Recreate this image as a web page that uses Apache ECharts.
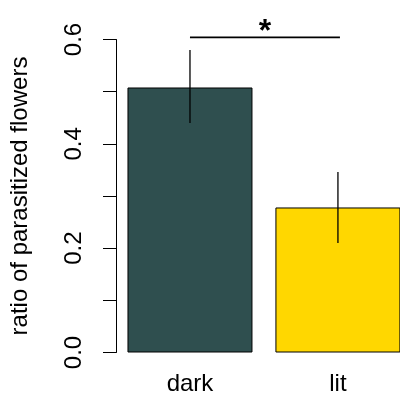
<!DOCTYPE html>
<html>
<head>
<meta charset="utf-8">
<script src="https://cdn.jsdelivr.net/npm/echarts@6/dist/echarts.min.js"></script>
<style>
html,body{margin:0;padding:0;background:#fff;}
#chart{width:400px;height:408px;}
</style>
</head>
<body>
<div id="chart"></div>
<script>
const categories = ['dark', 'lit'];
const means = [0.508, 0.278];
const errLow = [0.440, 0.210];
const errHigh = [0.580, 0.346];
const barColors = ['#2F4F4F', '#FFD700'];
const yLabelValues = [0, 0.2, 0.4, 0.6];
const sigPair = [0, 1];
const sigLevel = 0.604;
const sigStarLevel = 0.615;
const sigText = '*';
const yTitle = 'ratio of parasitized flowers';

const FONT = 'Liberation Sans, Arial, Helvetica, sans-serif';
const FS = 24;
// bar slots: category i sits at x = i + 0.5 on the x scale
const xPos = categories.map((c, i) => i + 0.5);

const chart = echarts.init(document.getElementById('chart'), null, {renderer: 'canvas'});

const option = {
  animation: false,
  backgroundColor: '#ffffff',
  grid: {left: 114, right: 0, top: 39.5, bottom: 55.5, containLabel: false},
  xAxis: {
    type: 'value',
    min: 0, max: 286 / 149, interval: 0.5,
    axisLine: {show: false},
    axisTick: {show: false},
    splitLine: {show: false},
    axisLabel: {
      color: '#000', fontFamily: FONT, fontSize: FS, margin: 20,
      showMinLabel: false, showMaxLabel: false,
      formatter: function (v) {
        const idx = v - 0.5;
        if (Math.abs(idx - Math.round(idx)) < 1e-9 && categories[Math.round(idx)] !== undefined) return categories[Math.round(idx)];
        return '';
      }
    }
  },
  yAxis: {
    type: 'value',
    min: 0, max: 0.6, interval: 0.1,
    name: yTitle,
    nameLocation: 'middle',
    nameGap: 84,
    nameTextStyle: {color: '#000', fontFamily: FONT, fontSize: FS},
    axisLine: {show: true, lineStyle: {color: '#000', width: 1}},
    axisTick: {show: true, length: 13, lineStyle: {color: '#000', width: 1}},
    splitLine: {show: false},
    axisLabel: {
      rotate: 90, margin: 30, color: '#000', fontFamily: FONT, fontSize: FS,
      formatter: function (v) {
        for (const t of yLabelValues) { if (Math.abs(v - t) < 1e-9) return t.toFixed(1); }
        return '';
      }
    }
  },
  series: [
    {
      type: 'bar',
      barWidth: 125,
      data: means.map((m, i) => ({value: [xPos[i], m], itemStyle: {color: barColors[i], borderColor: '#000', borderWidth: 1}})),
      z: 2
    },
    {
      type: 'custom',
      clip: false,
      z: 3,
      data: categories.map((c, i) => [xPos[i], errLow[i], errHigh[i]]),
      renderItem: function (params, api) {
        const p1 = api.coord([api.value(0), api.value(1)]);
        const p2 = api.coord([api.value(0), api.value(2)]);
        return {type: 'line', shape: {x1: p1[0], y1: p1[1], x2: p2[0], y2: p2[1]}, style: {stroke: '#000', lineWidth: 1.3}};
      }
    },
    {
      type: 'custom',
      clip: false,
      z: 3,
      data: [[xPos[sigPair[0]], xPos[sigPair[1]], sigLevel, sigStarLevel]],
      renderItem: function (params, api) {
        const a = api.coord([api.value(0), api.value(2)]);
        const b = api.coord([api.value(1), api.value(2)]);
        const s = api.coord([(api.value(0) + api.value(1)) / 2, api.value(3)]);
        return {
          type: 'group',
          children: [
            {type: 'line', shape: {x1: a[0], y1: a[1], x2: b[0] + 2, y2: b[1]}, style: {stroke: '#000', lineWidth: 1.6}},
            {type: 'text', x: s[0] + 1, y: s[1], style: {text: sigText, fontFamily: FONT, fontSize: 32, fontWeight: 'bold', fill: '#000', align: 'center', verticalAlign: 'middle'}}
          ]
        };
      }
    }
  ]
};
chart.setOption(option);
</script>
</body>
</html>
